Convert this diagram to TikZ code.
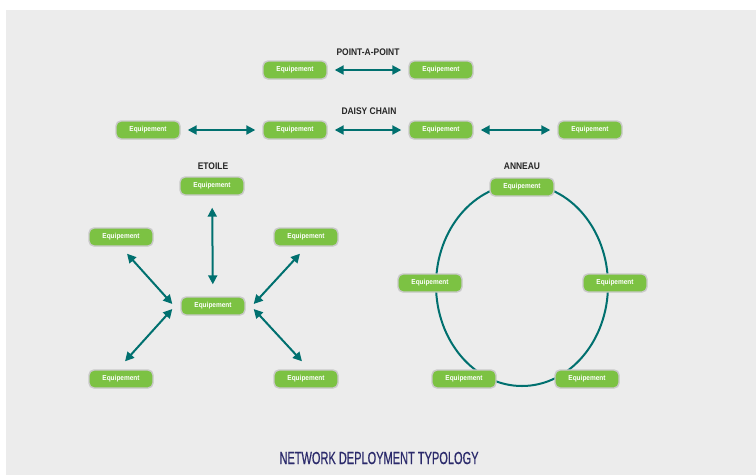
\documentclass[tikz,border=0pt]{standalone}
\usepackage{fontspec}
\setmainfont{Liberation Sans}
\newfontfamily\eqfont[FakeStretch=0.9]{Liberation Sans}
\newfontfamily\labfont[FakeStretch=0.88]{Liberation Sans}
\newfontfamily\titfont[FakeStretch=0.63,FakeBold=0.6]{Liberation Sans}
\usetikzlibrary{arrows.meta,calc}
\definecolor{bggray}{HTML}{ECECEC}
\definecolor{eqgreen}{HTML}{7CC243}
\definecolor{eqborder}{HTML}{C9C9C9}
\definecolor{teal}{HTML}{00706F}
\definecolor{navy}{HTML}{2B2A6B}
\tikzset{
  eq/.style={draw=eqborder, line width=1.4pt, fill=eqgreen, rounded corners=5pt,
    minimum width=64pt, minimum height=18pt, inner sep=0pt,
    text=white, font=\eqfont\bfseries\fontsize{7.2}{8}\selectfont},
  lab/.style={font=\labfont\bfseries\fontsize{9.6}{11}\selectfont, text=black!85},
  link/.style={draw=teal, line width=2pt, {Triangle[length=9pt,width=9pt]}-{Triangle[length=9pt,width=9pt]}},
  ring/.style={draw=teal, line width=2pt}
}
\begin{document}
\begin{tikzpicture}[x=1pt,y=-1pt]
\useasboundingbox (0,0) rectangle (756,475);
\fill[bggray] (6,10) rectangle (756,475);
% labels
\node[lab] (lp2p) at (368,52) {POINT-A-POINT};
\node[lab] (ldc) at (369,111) {DAISY CHAIN};
\node[lab] (let) at (213,166) {ETOILE};
\node[lab] (lan) at (522,166) {ANNEAU};
\node[font=\titfont\fontsize{17.5}{20}\selectfont, text=navy] (title) at (379,458) {NETWORK DEPLOYMENT TYPOLOGY};
% ring
\draw[ring] (522,285) ellipse [x radius=86, y radius=101];
% point a point
\node[eq] (p1) at (295,70) {Equipement};
\node[eq] (p2) at (441,70) {Equipement};
\draw[link, shorten <=7pt, shorten >=7pt] (p1) -- (p2);
% daisy chain
\node[eq] (d1) at (148,130) {Equipement};
\node[eq] (d2) at (295,130) {Equipement};
\node[eq] (d3) at (441,130) {Equipement};
\node[eq] (d4) at (590,130) {Equipement};
\draw[link, shorten <=7pt, shorten >=7pt] (d1) -- (d2);
\draw[link, shorten <=7pt, shorten >=7pt] (d2) -- (d3);
\draw[link, shorten <=7pt, shorten >=7pt] (d3) -- (d4);
% etoile
\node[eq] (st) at (212,186) {Equipement};
\node[eq] (stl) at (121,237) {Equipement};
\node[eq] (str) at (306,237) {Equipement};
\node[eq] (sc) at (213,306) {Equipement};
\node[eq] (sbl) at (121,379) {Equipement};
\node[eq] (sbr) at (306,379) {Equipement};
\draw[link, shorten <=12pt, shorten >=12pt] (st) -- (sc);
\draw[link] ([shift={(6,7)}]stl.south) -- ([shift={(-8,-2)}]sc.west);
\draw[link] ([shift={(-6,7)}]str.south) -- ([shift={(8,-2)}]sc.east);
\draw[link] ([shift={(-8,3)}]sc.west) -- ([shift={(4,-8)}]sbl.north);
\draw[link] ([shift={(8,3)}]sc.east) -- ([shift={(-4,-8)}]sbr.north);
% anneau
\node[eq] (at) at (522,187) {Equipement};
\node[eq] (al) at (430,283) {Equipement};
\node[eq] (ar) at (615,283) {Equipement};
\node[eq] (abl) at (464,379) {Equipement};
\node[eq] (abr) at (587,379) {Equipement};
\end{tikzpicture}
\end{document}
